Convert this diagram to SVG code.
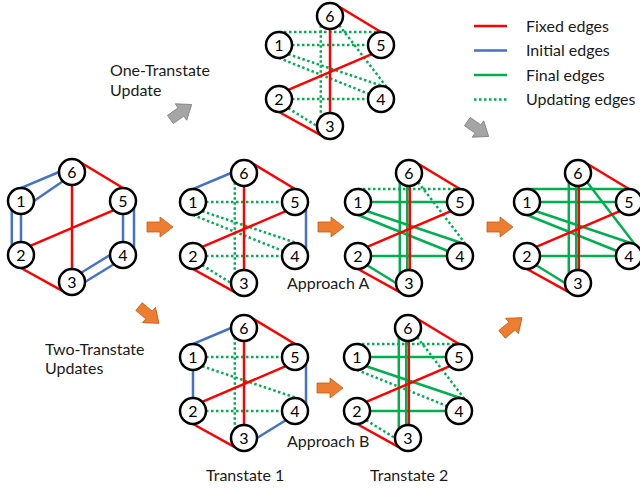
<svg xmlns="http://www.w3.org/2000/svg" width="640" height="489" viewBox="0 0 640 489">
<style>
.n circle{fill:#fff;stroke:#000;stroke-width:2.5}
.n text{font-family:Lato,"Liberation Sans",sans-serif;font-size:16px;text-anchor:middle;fill:#000}
.lbl{font-family:Lato,"Liberation Sans",sans-serif;font-size:16px;fill:#1a1a1a}
line{stroke-width:2.5;fill:none}
.red{stroke:#FF0000}
.blue{stroke:#4472C4}
.grn{stroke:#00B050}
.dot{stroke:#00B050;stroke-dasharray:2.5 2.5}
.oa{fill:#ED7D31;stroke:#C55A11;stroke-width:0.8}
.ga{fill:#A5A5A5;stroke:#7F7F7F;stroke-width:0.8}
</style>
<defs>
<path id="arr" d="M-13,-5 H0 V-10 L13,0 L0,10 V5 H-13 Z"/>
</defs>

<!-- legend -->
<g id="legend">
<line class="red" x1="474" y1="26" x2="507" y2="26"/>
<line class="blue" x1="474" y1="50.5" x2="507" y2="50.5"/>
<line class="grn" x1="474" y1="75" x2="507" y2="75"/>
<line class="dot" x1="474" y1="99.5" x2="507" y2="99.5"/>
<text class="lbl" x="526" y="31.5">Fixed edges</text>
<text class="lbl" x="526" y="56">Initial edges</text>
<text class="lbl" x="526" y="80.5">Final edges</text>
<text class="lbl" x="526" y="105">Updating edges</text>
</g>

<!-- labels -->
<g id="labels">
<text class="lbl" x="110" y="76">One-Transtate</text>
<text class="lbl" x="110" y="96">Update</text>
<text class="lbl" x="45" y="355">Two-Transtate</text>
<text class="lbl" x="45" y="374">Updates</text>
<text class="lbl" x="287" y="289">Approach A</text>
<text class="lbl" x="287" y="447">Approach B</text>
<text class="lbl" x="206" y="481">Transtate 1</text>
<text class="lbl" x="370" y="481">Transtate 2</text>
</g>

<!-- arrows -->
<g id="arrows">
<use href="#arr" class="oa" transform="translate(160,227)"/>
<use href="#arr" class="oa" transform="translate(331,227)"/>
<use href="#arr" class="oa" transform="translate(500,227)"/>
<use href="#arr" class="oa" transform="translate(330,388)"/>
<use href="#arr" class="oa" transform="translate(149,315) rotate(40)"/>
<use href="#arr" class="oa" transform="translate(512,326) rotate(-40)"/>
<use href="#arr" class="ga" transform="translate(181,112) rotate(-35)"/>
<use href="#arr" class="ga" transform="translate(478,129) rotate(35)"/>
</g>

<!-- Graph 0: initial -->
<g id="g0" transform="translate(72,172)">
<g id="g0-edges">
<line class="blue" x1="-60.2" y1="19.8" x2="-13" y2="0"/>
<line class="blue" x1="-38" y1="29" x2="-9.2" y2="9.2"/>
<line class="blue" x1="-60.2" y1="38.2" x2="-60.2" y2="73.8"/>
<line class="blue" x1="-51" y1="42" x2="-51" y2="70"/>
<line class="blue" x1="62" y1="35.9" x2="62" y2="76.1"/>
<line class="blue" x1="51" y1="42" x2="51" y2="70"/>
<line class="blue" x1="13" y1="110" x2="41.8" y2="92.2"/>
<line class="blue" x1="9.2" y1="100.8" x2="38" y2="83"/>
<line class="red" x1="9.2" y1="-9.2" x2="51" y2="16"/>
<line class="red" x1="0" y1="13" x2="0" y2="97"/>
<line class="red" x1="41.8" y1="38.2" x2="-41.8" y2="73.8"/>
<line class="red" x1="-51" y1="96" x2="-9.2" y2="119.2"/>
</g>
<g id="g0-n6" class="n"><circle cx="0" cy="0" r="13"/><text x="0" y="5.5">6</text></g>
<g id="g0-n1" class="n"><circle cx="-51" cy="29" r="13"/><text x="-51" y="34.5">1</text></g>
<g id="g0-n5" class="n"><circle cx="51" cy="29" r="13"/><text x="51" y="34.5">5</text></g>
<g id="g0-n2" class="n"><circle cx="-51" cy="83" r="13"/><text x="-51" y="88.5">2</text></g>
<g id="g0-n4" class="n"><circle cx="51" cy="83" r="13"/><text x="51" y="88.5">4</text></g>
<g id="g0-n3" class="n"><circle cx="0" cy="110" r="13"/><text x="0" y="115.5">3</text></g>
</g>

<!-- Graph 1: Approach A transtate -->
<g id="g1" transform="translate(244,173)">
<g id="g1-edges">
<line class="dot" x1="-38" y1="29" x2="38" y2="29"/>
<line class="dot" x1="-41.8" y1="38.2" x2="57" y2="71.5"/>
<line class="dot" x1="-51" y1="42" x2="39" y2="78"/>
<line class="dot" x1="-9.2" y1="9.2" x2="-9.2" y2="100.8"/>
<line class="dot" x1="-38" y1="83" x2="38" y2="83"/>
<line class="dot" x1="-41.8" y1="92.2" x2="-13" y2="110"/>
<line class="blue" x1="-60.2" y1="19.8" x2="-13" y2="0"/>
<line class="blue" x1="62" y1="35.9" x2="62" y2="76.1"/>
<line class="red" x1="9.2" y1="-9.2" x2="51" y2="16"/>
<line class="red" x1="0" y1="13" x2="0" y2="97"/>
<line class="red" x1="41.8" y1="38.2" x2="-41.8" y2="73.8"/>
<line class="red" x1="-51" y1="96" x2="-9.2" y2="119.2"/>
</g>
<g id="g1-n6" class="n"><circle cx="0" cy="0" r="13"/><text x="0" y="5.5">6</text></g>
<g id="g1-n1" class="n"><circle cx="-51" cy="29" r="13"/><text x="-51" y="34.5">1</text></g>
<g id="g1-n5" class="n"><circle cx="51" cy="29" r="13"/><text x="51" y="34.5">5</text></g>
<g id="g1-n2" class="n"><circle cx="-51" cy="83" r="13"/><text x="-51" y="88.5">2</text></g>
<g id="g1-n4" class="n"><circle cx="51" cy="83" r="13"/><text x="51" y="88.5">4</text></g>
<g id="g1-n3" class="n"><circle cx="0" cy="110" r="13"/><text x="0" y="115.5">3</text></g>
</g>

<!-- Graph 2: Approach A -->
<g id="g2" transform="translate(409,173)">
<g id="g2-edges">
<line class="grn" x1="-38" y1="29" x2="38" y2="29"/>
<line class="grn" x1="-41.8" y1="38.2" x2="57" y2="71.5"/>
<line class="grn" x1="-51" y1="42" x2="39" y2="78"/>
<line class="grn" x1="-9.2" y1="9.2" x2="-9.2" y2="100.8"/>
<line class="grn" x1="-38" y1="83" x2="38" y2="83"/>
<line class="grn" x1="-41.8" y1="92.2" x2="-13" y2="110"/>
<line class="grn" x1="-1.8" y1="13" x2="-1.8" y2="97"/>
<line class="dot" x1="-51" y1="16" x2="51" y2="16"/>
<line class="dot" x1="9.2" y1="9.2" x2="57" y2="71.5"/>
<line class="red" x1="9.2" y1="-9.2" x2="51" y2="16"/>
<line class="red" x1="0.8" y1="13" x2="0.8" y2="97"/>
<line class="red" x1="41.8" y1="38.2" x2="-41.8" y2="73.8"/>
<line class="red" x1="-51" y1="96" x2="-9.2" y2="119.2"/>
</g>
<g id="g2-n6" class="n"><circle cx="0" cy="0" r="13"/><text x="0" y="5.5">6</text></g>
<g id="g2-n1" class="n"><circle cx="-51" cy="29" r="13"/><text x="-51" y="34.5">1</text></g>
<g id="g2-n5" class="n"><circle cx="51" cy="29" r="13"/><text x="51" y="34.5">5</text></g>
<g id="g2-n2" class="n"><circle cx="-51" cy="83" r="13"/><text x="-51" y="88.5">2</text></g>
<g id="g2-n4" class="n"><circle cx="51" cy="83" r="13"/><text x="51" y="88.5">4</text></g>
<g id="g2-n3" class="n"><circle cx="0" cy="110" r="13"/><text x="0" y="115.5">3</text></g>
</g>

<!-- Graph 3: final -->
<g id="g3" transform="translate(578,173)">
<g id="g3-edges">
<line class="grn" x1="-51" y1="16" x2="51" y2="16"/>
<line class="grn" x1="-38" y1="29" x2="38" y2="29"/>
<line class="grn" x1="-41.8" y1="38.2" x2="57" y2="71.5"/>
<line class="grn" x1="-51" y1="42" x2="39" y2="78"/>
<line class="grn" x1="-9.2" y1="9.2" x2="-9.2" y2="100.8"/>
<line class="grn" x1="9.2" y1="9.2" x2="57" y2="71.5"/>
<line class="grn" x1="-38" y1="83" x2="38" y2="83"/>
<line class="grn" x1="-41.8" y1="92.2" x2="-13" y2="110"/>
<line class="grn" x1="-1.8" y1="13" x2="-1.8" y2="97"/>
<line class="red" x1="9.2" y1="-9.2" x2="51" y2="16"/>
<line class="red" x1="0.8" y1="13" x2="0.8" y2="97"/>
<line class="red" x1="41.8" y1="38.2" x2="-41.8" y2="73.8"/>
<line class="red" x1="-51" y1="96" x2="-9.2" y2="119.2"/>
</g>
<g id="g3-n6" class="n"><circle cx="0" cy="0" r="13"/><text x="0" y="5.5">6</text></g>
<g id="g3-n1" class="n"><circle cx="-51" cy="29" r="13"/><text x="-51" y="34.5">1</text></g>
<g id="g3-n5" class="n"><circle cx="51" cy="29" r="13"/><text x="51" y="34.5">5</text></g>
<g id="g3-n2" class="n"><circle cx="-51" cy="83" r="13"/><text x="-51" y="88.5">2</text></g>
<g id="g3-n4" class="n"><circle cx="51" cy="83" r="13"/><text x="51" y="88.5">4</text></g>
<g id="g3-n3" class="n"><circle cx="0" cy="110" r="13"/><text x="0" y="115.5">3</text></g>
</g>

<!-- Top: one-transtate update -->
<g id="gt" transform="translate(330,16)">
<g id="gt-edges">
<line class="dot" x1="-51" y1="16" x2="51" y2="16"/>
<line class="dot" x1="-38" y1="29" x2="38" y2="29"/>
<line class="dot" x1="-41.8" y1="38.2" x2="57" y2="71.5"/>
<line class="dot" x1="-51" y1="42" x2="39" y2="78"/>
<line class="dot" x1="-9.2" y1="9.2" x2="-9.2" y2="100.8"/>
<line class="dot" x1="9.2" y1="9.2" x2="57" y2="71.5"/>
<line class="dot" x1="-38" y1="83" x2="38" y2="83"/>
<line class="dot" x1="-41.8" y1="92.2" x2="-13" y2="110"/>
<line class="red" x1="9.2" y1="-9.2" x2="51" y2="16"/>
<line class="red" x1="0" y1="13" x2="0" y2="97"/>
<line class="red" x1="41.8" y1="38.2" x2="-41.8" y2="73.8"/>
<line class="red" x1="-51" y1="96" x2="-9.2" y2="119.2"/>
</g>
<g id="gt-n6" class="n"><circle cx="0" cy="0" r="13"/><text x="0" y="5.5">6</text></g>
<g id="gt-n1" class="n"><circle cx="-51" cy="29" r="13"/><text x="-51" y="34.5">1</text></g>
<g id="gt-n5" class="n"><circle cx="51" cy="29" r="13"/><text x="51" y="34.5">5</text></g>
<g id="gt-n2" class="n"><circle cx="-51" cy="83" r="13"/><text x="-51" y="88.5">2</text></g>
<g id="gt-n4" class="n"><circle cx="51" cy="83" r="13"/><text x="51" y="88.5">4</text></g>
<g id="gt-n3" class="n"><circle cx="0" cy="110" r="13"/><text x="0" y="115.5">3</text></g>
</g>

<!-- Transtate 1 -->
<g id="gb1" transform="translate(244,328)">
<g id="gb1-edges">
<line class="dot" x1="-38" y1="29" x2="38" y2="29"/>
<line class="dot" x1="-41.8" y1="38.2" x2="57" y2="71.5"/>
<line class="dot" x1="-9.2" y1="9.2" x2="-9.2" y2="100.8"/>
<line class="dot" x1="-38" y1="83" x2="38" y2="83"/>
<line class="blue" x1="-60.2" y1="19.8" x2="-13" y2="0"/>
<line class="blue" x1="-51" y1="42" x2="-51" y2="70"/>
<line class="blue" x1="62" y1="35.9" x2="62" y2="76.1"/>
<line class="blue" x1="13" y1="110" x2="41.8" y2="92.2"/>
<line class="red" x1="9.2" y1="-9.2" x2="51" y2="16"/>
<line class="red" x1="0" y1="13" x2="0" y2="97"/>
<line class="red" x1="41.8" y1="38.2" x2="-41.8" y2="73.8"/>
<line class="red" x1="-51" y1="96" x2="-9.2" y2="119.2"/>
</g>
<g id="gb1-n6" class="n"><circle cx="0" cy="0" r="13"/><text x="0" y="5.5">6</text></g>
<g id="gb1-n1" class="n"><circle cx="-51" cy="29" r="13"/><text x="-51" y="34.5">1</text></g>
<g id="gb1-n5" class="n"><circle cx="51" cy="29" r="13"/><text x="51" y="34.5">5</text></g>
<g id="gb1-n2" class="n"><circle cx="-51" cy="83" r="13"/><text x="-51" y="88.5">2</text></g>
<g id="gb1-n4" class="n"><circle cx="51" cy="83" r="13"/><text x="51" y="88.5">4</text></g>
<g id="gb1-n3" class="n"><circle cx="0" cy="110" r="13"/><text x="0" y="115.5">3</text></g>
</g>

<!-- Transtate 2 -->
<g id="gb2" transform="translate(408,328)">
<g id="gb2-edges">
<line class="grn" x1="-38" y1="29" x2="38" y2="29"/>
<line class="grn" x1="-41.8" y1="38.2" x2="57" y2="71.5"/>
<line class="grn" x1="-9.2" y1="9.2" x2="-9.2" y2="100.8"/>
<line class="grn" x1="-38" y1="83" x2="38" y2="83"/>
<line class="grn" x1="-1.8" y1="13" x2="-1.8" y2="97"/>
<line class="dot" x1="-51" y1="16" x2="51" y2="16"/>
<line class="dot" x1="-51" y1="42" x2="39" y2="78"/>
<line class="dot" x1="9.2" y1="9.2" x2="57" y2="71.5"/>
<line class="dot" x1="-41.8" y1="92.2" x2="-13" y2="110"/>
<line class="red" x1="9.2" y1="-9.2" x2="51" y2="16"/>
<line class="red" x1="0.8" y1="13" x2="0.8" y2="97"/>
<line class="red" x1="41.8" y1="38.2" x2="-41.8" y2="73.8"/>
<line class="red" x1="-51" y1="96" x2="-9.2" y2="119.2"/>
</g>
<g id="gb2-n6" class="n"><circle cx="0" cy="0" r="13"/><text x="0" y="5.5">6</text></g>
<g id="gb2-n1" class="n"><circle cx="-51" cy="29" r="13"/><text x="-51" y="34.5">1</text></g>
<g id="gb2-n5" class="n"><circle cx="51" cy="29" r="13"/><text x="51" y="34.5">5</text></g>
<g id="gb2-n2" class="n"><circle cx="-51" cy="83" r="13"/><text x="-51" y="88.5">2</text></g>
<g id="gb2-n4" class="n"><circle cx="51" cy="83" r="13"/><text x="51" y="88.5">4</text></g>
<g id="gb2-n3" class="n"><circle cx="0" cy="110" r="13"/><text x="0" y="115.5">3</text></g>
</g>
</svg>
